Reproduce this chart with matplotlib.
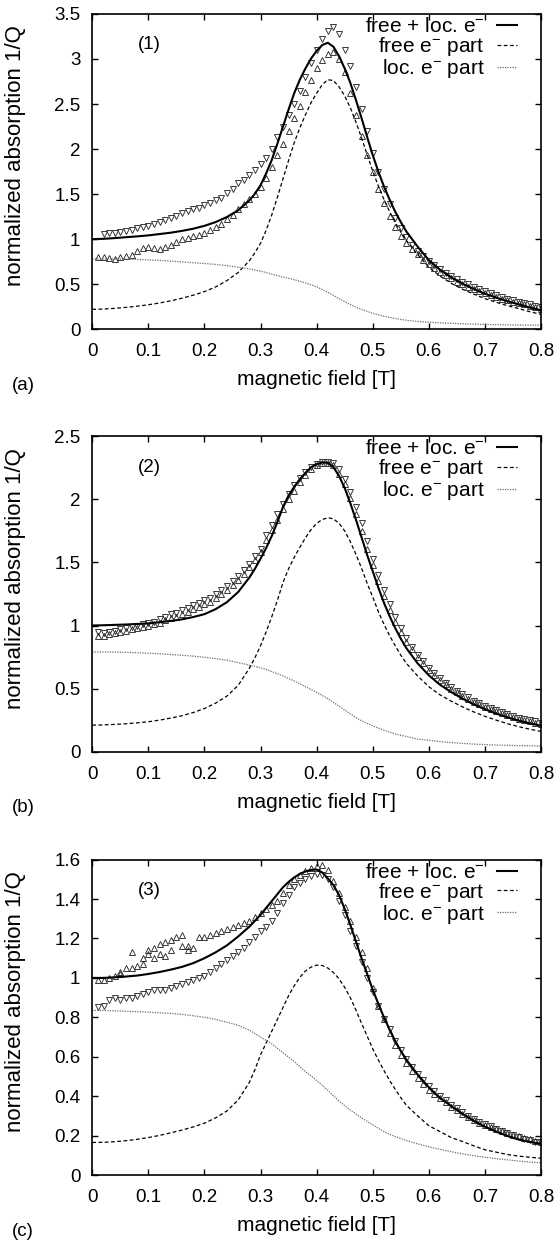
import numpy as np
import matplotlib
matplotlib.use("Agg")
import matplotlib.pyplot as plt
from matplotlib.lines import Line2D

plt.rcParams['font.family'] = ['Liberation Sans', 'DejaVu Sans']
plt.rcParams['mathtext.fontset'] = 'custom'
plt.rcParams['mathtext.rm'] = 'Liberation Sans'
plt.rcParams['mathtext.it'] = 'Liberation Sans:italic'

nan = float('nan')

# field values of the fit curves [T] (denser around the resonance)
fit_x = [0.00, 0.02, 0.04, 0.06, 0.08, 0.10, 0.12, 0.14, 0.16, 0.18,
         0.20, 0.22, 0.24, 0.26, 0.28,
         0.29, 0.30, 0.31, 0.32, 0.33, 0.34, 0.35, 0.36, 0.37, 0.38,
         0.39, 0.40, 0.41, 0.42, 0.43, 0.44, 0.45, 0.46, 0.47, 0.48,
         0.49, 0.50, 0.51, 0.52, 0.53, 0.54, 0.55,
         0.56, 0.58, 0.60, 0.62, 0.64, 0.66, 0.68, 0.70, 0.72, 0.74,
         0.76, 0.78, 0.80]

# field values of the measured points [T]
data_x = [0.01, 0.02, 0.03, 0.04, 0.05, 0.06, 0.07, 0.08, 0.09, 0.10,
          0.11, 0.12, 0.13, 0.14, 0.15, 0.16, 0.17, 0.18, 0.19, 0.20,
          0.21, 0.22, 0.23, 0.24, 0.25, 0.26, 0.27, 0.28, 0.29, 0.30,
          0.31, 0.32, 0.33, 0.34, 0.35, 0.36, 0.37, 0.38, 0.39, 0.40,
          0.41, 0.42, 0.43, 0.44, 0.45, 0.46, 0.47, 0.48, 0.49, 0.50,
          0.51, 0.52, 0.53, 0.54, 0.55, 0.56, 0.57, 0.58, 0.59, 0.60,
          0.61, 0.62, 0.63, 0.64, 0.65, 0.66, 0.67, 0.68, 0.69, 0.70,
          0.71, 0.72, 0.73, 0.74, 0.75, 0.76, 0.77, 0.78, 0.79, 0.80]

# ---- panel (a) / sample (1)
a_total = [1.000, 1.004, 1.012, 1.022, 1.031, 1.042, 1.057, 1.072, 1.092, 1.116,
           1.148, 1.190, 1.246, 1.320, 1.430,
           1.505, 1.600, 1.730, 1.880, 2.060, 2.250, 2.440, 2.620, 2.770, 2.895,
           3.005, 3.090, 3.155, 3.180, 3.135, 3.030, 2.895, 2.735, 2.545, 2.345,
           2.135, 1.933, 1.750, 1.585, 1.440, 1.305, 1.190,
           1.085, 0.917, 0.768, 0.661, 0.576, 0.506, 0.447, 0.394, 0.351, 0.311,
           0.277, 0.241, 0.210]
a_free = [0.221, 0.224, 0.232, 0.243, 0.256, 0.272, 0.292, 0.316, 0.345, 0.378,
          0.418, 0.470, 0.540, 0.630, 0.760,
          0.850, 0.955, 1.100, 1.270, 1.465, 1.670, 1.875, 2.070, 2.235, 2.380,
          2.515, 2.620, 2.715, 2.770, 2.760, 2.690, 2.590, 2.460, 2.300, 2.125,
          1.940, 1.755, 1.590, 1.440, 1.305, 1.185, 1.080,
          0.985, 0.830, 0.690, 0.590, 0.510, 0.445, 0.390, 0.340, 0.300, 0.262,
          0.230, 0.195, 0.165]
a_loc = [0.780, 0.780, 0.780, 0.779, 0.775, 0.770, 0.765, 0.756, 0.747, 0.738,
         0.730, 0.720, 0.706, 0.690, 0.670,
         0.658, 0.645, 0.629, 0.612, 0.596, 0.580, 0.565, 0.550, 0.533, 0.515,
         0.494, 0.470, 0.441, 0.410, 0.375, 0.340, 0.306, 0.275, 0.246, 0.220,
         0.198, 0.178, 0.160, 0.145, 0.132, 0.120, 0.109,
         0.100, 0.087, 0.078, 0.071, 0.066, 0.061, 0.057, 0.054, 0.051, 0.049,
         0.047, 0.046, 0.045]
a_up = [nan, 1.06, 1.07, 1.07, 1.08, 1.09, 1.10, 1.12, 1.13, 1.15,
        1.17, 1.19, 1.21, 1.24, 1.26, 1.29, 1.31, 1.33, 1.35, 1.38,
        1.40, 1.43, 1.46, 1.51, 1.56, 1.62, 1.66, 1.71, 1.77, 1.83,
        1.90, 2.00, 2.13, 2.25, 2.38, 2.50, 2.65, 2.80, 2.96, 3.10,
        3.22, 3.31, 3.36, 3.28, 3.10, 2.92, 2.69, 2.45, 2.20, 1.96,
        1.75, 1.56, 1.39, 1.24, 1.12, 1.02, 0.94, 0.87, 0.81, 0.76,
        0.71, 0.67, 0.63, 0.59, 0.56, 0.53, 0.50, 0.47, 0.445, 0.42,
        0.40, 0.38, 0.36, 0.34, 0.32, 0.305, 0.29, 0.275, 0.26, 0.245]
a_down = [0.80, 0.80, 0.79, 0.78, 0.80, 0.81, 0.82, 0.87, 0.90, 0.91,
          0.90, 0.89, 0.91, 0.94, 0.97, 1.00, 1.01, 1.03, 1.05, 1.07,
          1.10, 1.13, 1.17, 1.22, 1.27, 1.33, 1.39, 1.45, 1.50, 1.58,
          1.68, 1.80, 1.93, 2.06, 2.20, 2.34, 2.48, 2.63, 2.77, 2.90,
          2.99, 3.05, 3.08, 3.00, 2.85, 2.62, 2.38, 2.15, 1.93, 1.74,
          1.56, 1.40, 1.26, 1.14, 1.04, 0.96, 0.89, 0.83, 0.77, 0.72,
          0.68, 0.64, 0.60, 0.565, 0.53, 0.50, 0.47, 0.445, 0.42, 0.40,
          0.38, 0.36, 0.34, 0.32, 0.305, 0.29, 0.275, 0.26, 0.245, 0.23]
a_extra_x = []
a_extra_y = []
a_yticks = [0, 0.5, 1, 1.5, 2, 2.5, 3, 3.5]

# ---- panel (b) / sample (2)
b_total = [1.000, 1.002, 1.005, 1.008, 1.012, 1.017, 1.026, 1.036, 1.049, 1.067,
           1.090, 1.130, 1.185, 1.265, 1.380,
           1.450, 1.530, 1.615, 1.710, 1.820, 1.940, 2.030, 2.100, 2.160, 2.210,
           2.255, 2.280, 2.292, 2.290, 2.255, 2.185, 2.090, 1.970, 1.840, 1.700,
           1.560, 1.430, 1.300, 1.180, 1.075, 0.980, 0.895,
           0.820, 0.700, 0.605, 0.530, 0.472, 0.420, 0.375, 0.336, 0.302, 0.272,
           0.246, 0.224, 0.205]
b_free = [0.210, 0.212, 0.216, 0.221, 0.228, 0.237, 0.250, 0.266, 0.285, 0.310,
          0.342, 0.385, 0.440, 0.525, 0.660,
          0.745, 0.840, 0.950, 1.070, 1.200, 1.340, 1.450, 1.540, 1.620, 1.695,
          1.760, 1.810, 1.840, 1.855, 1.845, 1.810, 1.750, 1.665, 1.565, 1.455,
          1.335, 1.225, 1.110, 1.010, 0.920, 0.840, 0.765,
          0.700, 0.600, 0.515, 0.450, 0.400, 0.355, 0.315, 0.280, 0.250, 0.222,
          0.198, 0.178, 0.160]
b_loc = [0.790, 0.790, 0.789, 0.787, 0.784, 0.780, 0.776, 0.770, 0.764, 0.757,
         0.748, 0.738, 0.725, 0.706, 0.686,
         0.676, 0.665, 0.651, 0.635, 0.618, 0.600, 0.580, 0.560, 0.538, 0.515,
         0.493, 0.470, 0.446, 0.420, 0.390, 0.360, 0.330, 0.300, 0.271, 0.245,
         0.224, 0.205, 0.187, 0.170, 0.155, 0.140, 0.130,
         0.120, 0.100, 0.090, 0.080, 0.072, 0.065, 0.060, 0.056, 0.052, 0.050,
         0.048, 0.046, 0.045]
b_up = [0.95, 0.94, 0.95, 0.96, 0.97, 0.98, 0.99, 1.00, 1.01, 1.02,
        1.03, 1.05, 1.07, 1.09, 1.10, 1.12, 1.14, 1.16, 1.18, 1.20,
        1.22, 1.25, 1.28, 1.31, 1.35, 1.39, 1.44, 1.49, 1.55, 1.61,
        1.72, 1.80, 1.88, 1.96, 2.04, 2.11, 2.17, 2.22, 2.26, 2.28,
        2.30, 2.30, 2.29, 2.24, 2.16, 2.06, 1.94, 1.81, 1.67, 1.53,
        1.40, 1.28, 1.17, 1.07, 0.98, 0.90, 0.83, 0.77, 0.715, 0.665,
        0.62, 0.58, 0.545, 0.51, 0.48, 0.455, 0.43, 0.405, 0.385, 0.365,
        0.345, 0.33, 0.315, 0.30, 0.285, 0.27, 0.26, 0.25, 0.24, 0.23]
b_down = [0.92, 0.92, 0.93, 0.94, 0.95, 0.96, 0.97, 0.98, 0.99, 1.00,
          1.01, 1.02, 1.04, 1.06, 1.07, 1.09, 1.11, 1.13, 1.15, 1.17,
          1.19, 1.22, 1.25, 1.28, 1.32, 1.36, 1.41, 1.46, 1.52, 1.58,
          1.68, 1.76, 1.84, 1.92, 2.00, 2.07, 2.14, 2.19, 2.24, 2.27,
          2.29, 2.29, 2.27, 2.20, 2.12, 2.01, 1.88, 1.75, 1.61, 1.48,
          1.35, 1.23, 1.12, 1.03, 0.95, 0.87, 0.81, 0.75, 0.70, 0.65,
          0.61, 0.57, 0.535, 0.50, 0.47, 0.445, 0.42, 0.395, 0.375, 0.355,
          0.335, 0.32, 0.305, 0.29, 0.275, 0.26, 0.25, 0.24, 0.23, 0.22]
b_extra_x = []
b_extra_y = []
b_yticks = [0, 0.5, 1, 1.5, 2, 2.5]

# ---- panel (c) / sample (3)
c_total = [1.000, 1.000, 1.003, 1.007, 1.012, 1.020, 1.030, 1.042, 1.056, 1.075,
           1.100, 1.130, 1.165, 1.210, 1.260,
           1.290, 1.320, 1.355, 1.390, 1.425, 1.460, 1.487, 1.510, 1.528, 1.540,
           1.548, 1.550, 1.535, 1.505, 1.470, 1.420, 1.350, 1.270, 1.185, 1.100,
           1.020, 0.940, 0.868, 0.800, 0.738, 0.680, 0.630,
           0.585, 0.510, 0.445, 0.390, 0.350, 0.310, 0.275, 0.245, 0.220, 0.198,
           0.180, 0.168, 0.158]
c_free = [0.165, 0.166, 0.169, 0.174, 0.181, 0.190, 0.201, 0.214, 0.228, 0.244,
          0.263, 0.290, 0.325, 0.380, 0.470,
          0.535, 0.610, 0.670, 0.730, 0.790, 0.850, 0.910, 0.960, 1.003, 1.035,
          1.055, 1.065, 1.063, 1.050, 1.027, 0.995, 0.952, 0.900, 0.837, 0.770,
          0.705, 0.640, 0.583, 0.530, 0.480, 0.435, 0.392,
          0.354, 0.300, 0.250, 0.220, 0.190, 0.170, 0.148, 0.128, 0.116, 0.104,
          0.096, 0.090, 0.085]
c_loc = [0.835, 0.835, 0.833, 0.831, 0.829, 0.826, 0.823, 0.820, 0.815, 0.808,
         0.800, 0.790, 0.775, 0.760, 0.735,
         0.718, 0.700, 0.683, 0.665, 0.643, 0.620, 0.598, 0.575, 0.550, 0.525,
         0.503, 0.480, 0.455, 0.430, 0.402, 0.375, 0.352, 0.330, 0.310, 0.290,
         0.272, 0.255, 0.237, 0.220, 0.207, 0.195, 0.185,
         0.175, 0.158, 0.143, 0.130, 0.118, 0.107, 0.098, 0.090, 0.083, 0.077,
         0.071, 0.066, 0.062]
c_up = [0.99, 0.99, 1.00, 1.01, 1.02, 1.05, 1.13, 1.06, 1.10, 1.14,
        1.15, 1.17, 1.18, 1.19, 1.21, 1.22, 1.16, 1.15, 1.21, 1.21,
        1.22, 1.23, 1.24, 1.25, 1.26, 1.27, 1.28, 1.29, 1.31, 1.33,
        1.35, 1.37, 1.39, 1.43, 1.47, 1.50, 1.52, 1.54, 1.56, 1.57,
        1.575, 1.55, 1.49, 1.43, 1.36, 1.29, 1.21, 1.13, 1.05, 0.95,
        0.86, 0.79, 0.72, 0.66, 0.61, 0.57, 0.53, 0.49, 0.46, 0.43,
        0.41, 0.39, 0.37, 0.345, 0.33, 0.31, 0.295, 0.28, 0.265, 0.255,
        0.245, 0.235, 0.225, 0.215, 0.205, 0.20, 0.19, 0.185, 0.175, 0.165]
c_down = [0.85, 0.86, 0.89, 0.90, 0.89, 0.90, 0.90, 0.91, 0.92, 0.93,
          0.94, 0.94, 0.94, 0.95, 0.96, 0.97, 0.98, 0.99, 1.00, 1.01,
          1.03, 1.05, 1.07, 1.09, 1.11, 1.13, 1.15, 1.18, 1.21, 1.24,
          1.26, 1.29, 1.33, 1.38, 1.42, 1.46, 1.48, 1.50, 1.515, 1.525,
          1.52, 1.50, 1.46, 1.39, 1.32, 1.24, 1.16, 1.08, 1.00, 0.93,
          0.86, 0.79, 0.74, 0.68, 0.635, 0.59, 0.55, 0.515, 0.48, 0.45,
          0.425, 0.40, 0.38, 0.355, 0.34, 0.32, 0.30, 0.285, 0.27, 0.26,
          0.25, 0.235, 0.225, 0.215, 0.205, 0.195, 0.185, 0.18, 0.17, 0.165]
# stray points of the up sweep at low field
c_extra_x = [0.05, 0.07, 0.09, 0.10, 0.11, 0.12, 0.13, 0.14, 0.16, 0.17]
c_extra_y = [1.03, 1.05, 1.07, 1.12, 1.10, 1.12, 1.11, 1.14, 1.16, 1.14]
c_yticks = [0, 0.2, 0.4, 0.6, 0.8, 1, 1.2, 1.4, 1.6]

x_ticks = [0, 0.1, 0.2, 0.3, 0.4, 0.5, 0.6, 0.7, 0.8]
legend_labels = ['free + loc. e$^{-}$', 'free e$^{-}$ part', 'loc. e$^{-}$ part']

panels = [
    ('(a)', '(1)', a_total, a_free, a_loc, a_up, a_down, a_extra_x, a_extra_y, a_yticks, ('v', '^'), 0.7351),
    ('(b)', '(2)', b_total, b_free, b_loc, b_up, b_down, b_extra_x, b_extra_y, b_yticks, ('v', '^'), 0.3953),
    ('(c)', '(3)', c_total, c_free, c_loc, c_up, c_down, c_extra_x, c_extra_y, c_yticks, ('^', 'v'), 0.0547),
]

fig = plt.figure(figsize=(5.6, 12.43), dpi=100)
ax_h = 0.2537
for letter, number, total, free, loc, up, down, ex, ey, yticks, marks, bottom in panels:
    ax = fig.add_axes([0.1648, bottom, 0.8013, ax_h])

    # measured points first, fits on top
    pts = dict(linestyle='none', ms=4.0, mfc='none', mec='#2b2b2b', mew=0.65)
    ax.plot(data_x, up, marker=marks[0], **pts)
    ax.plot(data_x, down, marker=marks[1], **pts)
    ax.plot(ex, ey, marker='^', **pts)

    ax.plot(fit_x, total, color='black', lw=1.5)
    ax.plot(fit_x, free, color='black', lw=0.9, linestyle=(0, (3, 2)))
    ax.plot(fit_x, loc, color='#6e6e6e', lw=0.9, linestyle=(0, (1, 1)))

    ax.set_xlim(0, 0.8)
    ax.set_ylim(yticks[0], yticks[-1])
    ax.set_xticks(x_ticks)
    ax.set_xticklabels(['%g' % t for t in x_ticks])
    ax.set_yticks(yticks)
    ax.set_yticklabels(['%g' % t for t in yticks])
    ax.tick_params(direction='in', length=4, width=1.0, top=True, right=True,
                   labelsize=13.5)
    ax.tick_params(axis='x', pad=10)
    ax.tick_params(axis='y', pad=8.5)
    for s in ax.spines.values():
        s.set_linewidth(1.2)

    ax.set_xlabel('magnetic field [T]', fontsize=15)
    ax.xaxis.set_label_coords(0.5, -0.13)
    ax.set_ylabel('normalized absorption 1/Q', fontsize=16)
    ax.yaxis.set_label_coords(-0.148, 0.55)

    ax.text(0.1025, 0.902, number, transform=ax.transAxes, ha='left', va='center', fontsize=13.5)
    fig.text(12 / 560, bottom - 56 / 1243, letter, ha='left', va='center', fontsize=13.5)

    handles = [Line2D([], [], color='black', lw=1.5),
               Line2D([], [], color='black', lw=0.9, linestyle=(0, (3, 2))),
               Line2D([], [], color='#6e6e6e', lw=0.9, linestyle=(0, (1, 1)))]
    ax.legend(handles, legend_labels, loc='upper right', bbox_to_anchor=(0.9465, 0.99),
              frameon=False, markerfirst=False, handlelength=0.95, handletextpad=0.6,
              borderpad=0, borderaxespad=0, labelspacing=-0.05, fontsize=15)

fig.savefig('out.png', dpi=100)
